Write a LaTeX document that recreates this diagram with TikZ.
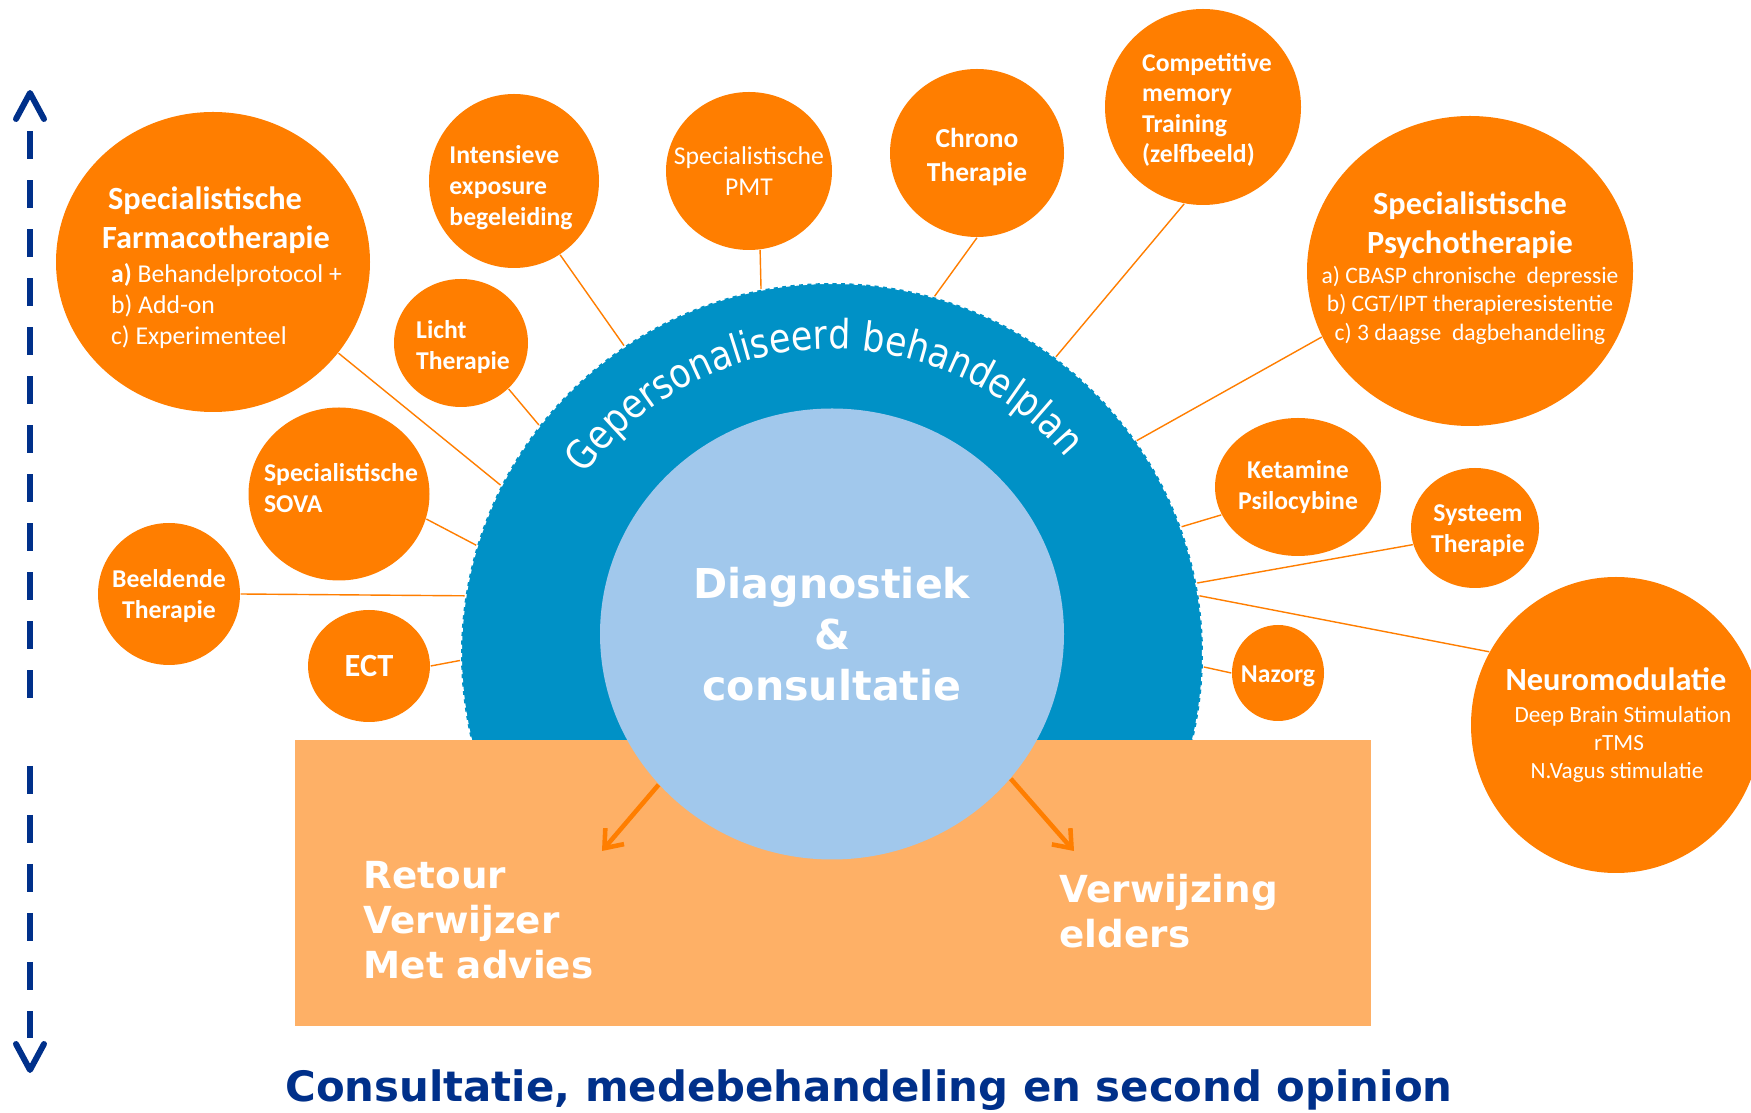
\documentclass[tikz,border=0pt]{standalone}
\usepackage{fontspec}
\setmainfont{Carlito}
\newfontfamily\verdfont{DejaVu Sans}
\newfontfamily\arcfont[FakeStretch=0.86]{DejaVu Sans}
\usetikzlibrary{shapes.geometric,arrows.meta,decorations.text}

\newlength{\du}
\setlength{\du}{0.01cm}

\definecolor{bubbleorange}{rgb}{1.000000, 0.494000, 0.000000}
\definecolor{ringblue}{rgb}{0.000000, 0.569000, 0.776000}
\definecolor{corelightblue}{rgb}{0.631000, 0.784000, 0.925000}
\definecolor{panelorange}{rgb}{0.996000, 0.690000, 0.400000}
\definecolor{titleblue}{rgb}{0.000000, 0.188000, 0.541000}

\newcommand{\bubbletitle}{\fontsize{9.2}{11}\selectfont\bfseries}

\tikzset{
  bubble/.style 2 args={ellipse, fill=bubbleorange, inner sep=0pt, minimum width=#1\du, minimum height=#2\du},
  bubbletext/.style={text=white, align=left, inner sep=0pt, font=\fontsize{7.3}{8.8}\selectfont\bfseries},
  spoke/.style={draw=bubbleorange, line width=0.4pt},
  outflow/.style={draw=bubbleorange, line width=1.3pt, -{Straight Barb[length=4.5pt,width=7pt]}},
  timeline/.style={draw=titleblue, line width=1.7pt, dash pattern=on 28\du off 21\du},
  timelinetip/.style={draw=titleblue, line width=1.7pt, line cap=round, line join=round},
  bigtext/.style={text=white, align=left, inner sep=0pt, font=\verdfont\bfseries\fontsize{10.6}{12.8}\selectfont},
}

\begin{document}
\begin{tikzpicture}[x=0.01cm,y=0.01cm]
\fill[white] (0,-1113) rectangle (1751,0);
\useasboundingbox (0,-1113) rectangle (1751,0);

% ring, panel and core
\node[circle, fill=ringblue, draw=white, dash pattern=on 1.2pt off 1.2pt, line width=0.6pt, minimum size=742\du, inner sep=0pt] (ring) at (832,-654) {};
\path[decorate, decoration={text along path, text align=center, text color=white,
  text={|\arcfont\fontsize{11.5}{14}\selectfont|Gepersonaliseerd behandelplan}}]
  (ring.center) ++(152:305) arc[start angle=152, end angle=32, radius=305];
\node[rectangle, fill=panelorange, minimum width=1076\du, minimum height=286\du, inner sep=0pt] (panel) at (833,-883) {};
\node[ellipse, fill=corelightblue, minimum width=464\du, minimum height=451\du, inner sep=0pt,
  text=white, align=center, font=\verdfont\bfseries\fontsize{11.7}{14.5}\selectfont] (core) at (832,-634) {Diagnostiek\\\&\\consultatie};

% bubbles, left side
\node[bubble={314}{300}, label={[bubbletext, xshift=9\du, yshift=-6\du]center:{\hspace*{6\du}{\bubbletitle Specialistische}\\[2.2pt]
  {\bubbletitle Farmacotherapie}\\[1pt]
  \hspace*{9\du}a) {\mdseries Behandelprotocol +}\\
  \hspace*{9\du}{\mdseries b) Add-on}\\
  \hspace*{9\du}{\mdseries c) Experimenteel}}}] (farma) at (213,-262) {};
\node[bubble={170}{174}, label={[bubbletext, xshift=-3\du, yshift=-7\du]center:{Intensieve\\exposure\\begeleiding}}] (intens) at (514,-181) {};
\node[bubble={134}{128}, label={[bubbletext, xshift=2\du, yshift=-4\du]center:{Licht\\Therapie}}] (licht) at (461,-343) {};
\node[bubble={181}{173}, label={[bubbletext, xshift=2\du, yshift=6\du]center:{Specialistische\\SOVA}}] (sova) at (339,-494) {};
\node[bubble={142}{142}, label={[bubbletext, align=center, yshift=-2\du]center:{Beeldende\\Therapie}}] (beeld) at (169,-594) {};
\node[bubble={122}{112}, label={[bubbletext, font=\bubbletitle]center:ECT}] (ect) at (369,-666) {};

% bubbles, top
\node[bubble={166}{158}, label={[bubbletext, align=center, font=\fontsize{7.3}{8.8}\selectfont]center:{Specialistische\\PMT}}] (pmt) at (749,-171) {};
\node[bubble={174}{168}, label={[bubbletext, align=center, yshift=-4\du, font=\fontsize{7.8}{9.5}\selectfont\bfseries]center:{Chrono\\Therapie}}] (chrono) at (977,-153) {};
\node[bubble={196}{196}, label={[bubbletext, xshift=4\du, yshift=-3\du, font=\fontsize{7.3}{8.6}\selectfont\bfseries]center:{Competitive\\memory\\Training\\(zelfbeeld)}}] (compet) at (1203,-107) {};

% bubbles, right side
\node[bubble={326}{310}, label={[bubbletext, align=center, yshift=3\du, font=\fontsize{6.7}{8}\selectfont]center:{{\bubbletitle Specialistische}\\[3.1pt]
  {\bubbletitle Psychotherapie}\\[0.6pt]
  a) CBASP chronische~ depressie\\
  b) CGT/IPT therapieresistentie\\
  c) 3 daagse~ dagbehandeling}}] (psycho) at (1470,-271) {};
\node[bubble={166}{138}, label={[bubbletext, align=center]center:{Ketamine\\Psilocybine}}] (ketam) at (1298,-487) {};
\node[bubble={128}{120}, label={[bubbletext, align=center, xshift=3\du, yshift=-3\du]center:{Systeem\\Therapie}}] (system) at (1475,-528) {};
\node[bubble={290}{296}, label={[bubbletext, align=center, font=\fontsize{6.6}{8}\selectfont]center:{{\bubbletitle Neuromodulatie}\\[1.1pt]
  \hspace*{14\du}Deep Brain Stimulation\\
  \hspace*{6\du}rTMS\\
  \hspace*{2\du}N.Vagus stimulatie}}] (neuro) at (1616,-725) {};
\node[bubble={92}{96}, label={[bubbletext, yshift=-3\du]center:Nazorg}] (nazorg) at (1278,-673) {};

% spokes to the ring
\draw[spoke] (farma.-36) -- (ring.153);
\draw[spoke] (intens.-58) -- (ring.124);
\draw[spoke] (licht.-44) -- (ring.142);
\draw[spoke] (sova.-16) -- (ring.163);
\draw[spoke] (beeld.0) -- (ring.171);
\draw[spoke] (ect.0) -- (ring.181);
\draw[spoke] (pmt.-82) -- (ring.101);
\draw[spoke] (chrono.-90) -- (ring.74);
\draw[spoke] (compet.-101) -- (ring.53);
\draw[spoke] (psycho.204) -- (ring.35);
\draw[spoke] (ketam.200) -- (ring.20);
\draw[spoke] (system.195) -- (ring.11);
\draw[spoke] (neuro.150) -- (ring.9);
\draw[spoke] (nazorg.180) -- (ring.-2);

% outcomes
\coordinate (retourtip) at (602,-851);
\coordinate (elderstip) at (1074,-851);
\draw[outflow] (core.221) -- (retourtip);
\draw[outflow] (core.-39) -- (elderstip);
\node[bigtext, anchor=west] (retour) at (363,-920) {Retour\\Verwijzer\\Met advies};
\node[bigtext, anchor=west] (elders) at (1059,-911) {Verwijzing\\elders};

\node[text=titleblue, inner sep=0pt, font=\verdfont\bfseries\fontsize{11.9}{14}\selectfont] (caption) at (869,-1090) {Consultatie, medebehandeling en second opinion};

% time line
\coordinate (tltop) at (30,-93);
\coordinate (tlgapa) at (30,-698);
\coordinate (tlgapb) at (30,-766);
\coordinate (tlbottom) at (30,-1070);
\draw[timeline] (tlgapa) -- ([yshift=-38\du]tltop);
\draw[timelinetip] ([shift={(-14,-26)}]tltop) -- (tltop) -- ([shift={(14,-26)}]tltop);
\draw[timeline] (tlgapb) -- ([yshift=32\du]tlbottom);
\draw[timelinetip] ([shift={(-14,26)}]tlbottom) -- (tlbottom) -- ([shift={(14,26)}]tlbottom);
\end{tikzpicture}
\end{document}
